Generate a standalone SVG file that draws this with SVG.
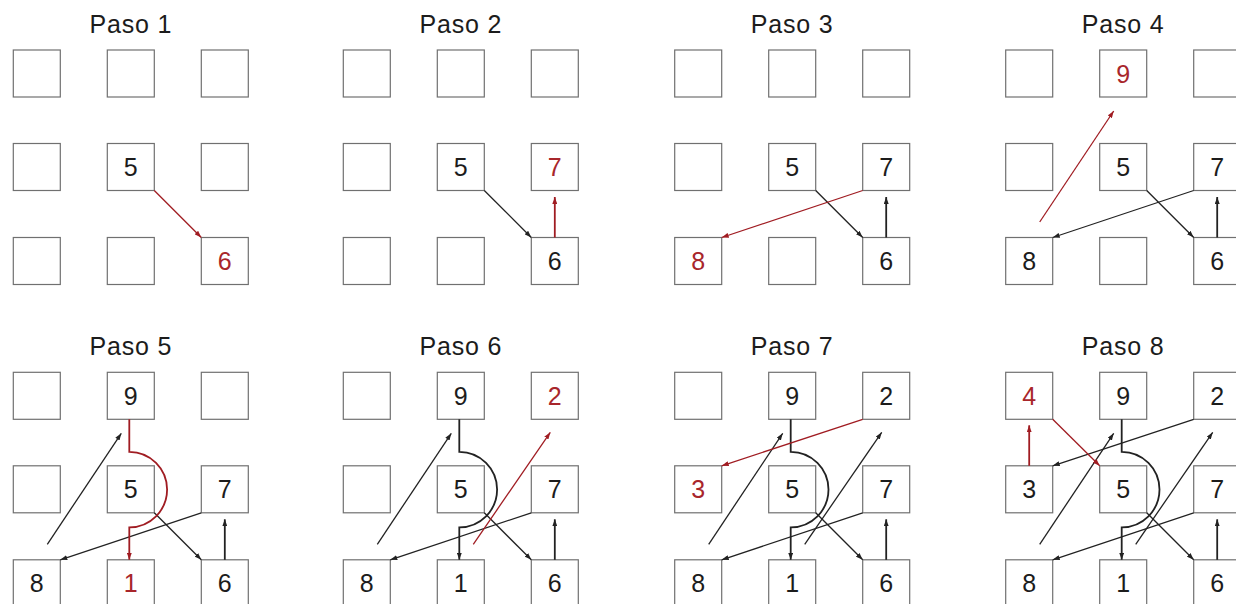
<svg xmlns="http://www.w3.org/2000/svg" width="1236" height="604" viewBox="0 0 1236 604">
<defs>
<marker id="ab" markerUnits="userSpaceOnUse" markerWidth="7" markerHeight="5" viewBox="0 0 7 5" refX="7" refY="2.5" orient="auto"><path d="M0,0 L7,2.5 L0,5 z" fill="#222"/></marker>
<marker id="ar" markerUnits="userSpaceOnUse" markerWidth="7" markerHeight="5" viewBox="0 0 7 5" refX="7" refY="2.5" orient="auto"><path d="M0,0 L7,2.5 L0,5 z" fill="#a01c22"/></marker>
<style>
.bx{fill:#fff;stroke:#707070;stroke-width:1.2}
.t{font-family:"Liberation Sans",Arial,sans-serif;font-size:25px;fill:#1c1c1c;text-anchor:middle;letter-spacing:0.8px}
.d{font-family:"Liberation Sans",Arial,sans-serif;font-size:25px;fill:#1c1c1c;text-anchor:middle}
.dr{fill:#a8262b}
.k{fill:none;stroke:#222;stroke-width:1.3;marker-end:url(#ab)}
.kv{fill:none;stroke:#222;stroke-width:1.8;marker-end:url(#ab)}
.r{fill:none;stroke:#a01c22;stroke-width:1.3;marker-end:url(#ar)}
.rv{fill:none;stroke:#a01c22;stroke-width:1.8;marker-end:url(#ar)}
</style>
</defs>
<rect width="1236" height="604" fill="#fff"/>

<!-- Paso 1 -->
<g id="paso1" transform="translate(13.3,50)">
<text class="t" x="117.5" y="-17">Paso 1</text>
<g id="p1-a1"><rect class="bx" x="0" y="0" width="47" height="47"/></g>
<g id="p1-a2"><rect class="bx" x="94" y="0" width="47" height="47"/></g>
<g id="p1-a3"><rect class="bx" x="188" y="0" width="47" height="47"/></g>
<g id="p1-b1"><rect class="bx" x="0" y="93.5" width="47" height="47"/></g>
<g id="p1-b2"><rect class="bx" x="94" y="93.5" width="47" height="47"/><text class="d" x="117.5" y="126">5</text></g>
<g id="p1-b3"><rect class="bx" x="188" y="93.5" width="47" height="47"/></g>
<g id="p1-c1"><rect class="bx" x="0" y="187.5" width="47" height="47"/></g>
<g id="p1-c2"><rect class="bx" x="94" y="187.5" width="47" height="47"/></g>
<g id="p1-c3"><rect class="bx" x="188" y="187.5" width="47" height="47"/><text class="d dr" x="211.5" y="220">6</text></g>
<g id="p1-connectors">
<path class="r" d="M141,140.5 L188,187.5"/>
</g>
</g>

<!-- Paso 2 -->
<g id="paso2" transform="translate(343.3,50)">
<text class="t" x="117.5" y="-17">Paso 2</text>
<g id="p2-a1"><rect class="bx" x="0" y="0" width="47" height="47"/></g>
<g id="p2-a2"><rect class="bx" x="94" y="0" width="47" height="47"/></g>
<g id="p2-a3"><rect class="bx" x="188" y="0" width="47" height="47"/></g>
<g id="p2-b1"><rect class="bx" x="0" y="93.5" width="47" height="47"/></g>
<g id="p2-b2"><rect class="bx" x="94" y="93.5" width="47" height="47"/><text class="d" x="117.5" y="126">5</text></g>
<g id="p2-b3"><rect class="bx" x="188" y="93.5" width="47" height="47"/><text class="d dr" x="211.5" y="126">7</text></g>
<g id="p2-c1"><rect class="bx" x="0" y="187.5" width="47" height="47"/></g>
<g id="p2-c2"><rect class="bx" x="94" y="187.5" width="47" height="47"/></g>
<g id="p2-c3"><rect class="bx" x="188" y="187.5" width="47" height="47"/><text class="d" x="211.5" y="220">6</text></g>
<g id="p2-connectors">
<path class="k" d="M141,140.5 L188,187.5"/>
<path class="rv" d="M211.5,187.5 L211.5,147"/>
</g>
</g>

<!-- Paso 3 -->
<g id="paso3" transform="translate(674.7,50)">
<text class="t" x="117.5" y="-17">Paso 3</text>
<g id="p3-a1"><rect class="bx" x="0" y="0" width="47" height="47"/></g>
<g id="p3-a2"><rect class="bx" x="94" y="0" width="47" height="47"/></g>
<g id="p3-a3"><rect class="bx" x="188" y="0" width="47" height="47"/></g>
<g id="p3-b1"><rect class="bx" x="0" y="93.5" width="47" height="47"/></g>
<g id="p3-b2"><rect class="bx" x="94" y="93.5" width="47" height="47"/><text class="d" x="117.5" y="126">5</text></g>
<g id="p3-b3"><rect class="bx" x="188" y="93.5" width="47" height="47"/><text class="d" x="211.5" y="126">7</text></g>
<g id="p3-c1"><rect class="bx" x="0" y="187.5" width="47" height="47"/><text class="d dr" x="23.5" y="220">8</text></g>
<g id="p3-c2"><rect class="bx" x="94" y="187.5" width="47" height="47"/></g>
<g id="p3-c3"><rect class="bx" x="188" y="187.5" width="47" height="47"/><text class="d" x="211.5" y="220">6</text></g>
<g id="p3-connectors">
<path class="k" d="M141,140.5 L188,187.5"/>
<path class="kv" d="M211.5,187.5 L211.5,147"/>
<path class="r" d="M188,140.5 L47,187.5"/>
</g>
</g>

<!-- Paso 4 -->
<g id="paso4" transform="translate(1005.7,50)">
<text class="t" x="117.5" y="-17">Paso 4</text>
<g id="p4-a1"><rect class="bx" x="0" y="0" width="47" height="47"/></g>
<g id="p4-a2"><rect class="bx" x="94" y="0" width="47" height="47"/><text class="d dr" x="117.5" y="32.5">9</text></g>
<g id="p4-a3"><rect class="bx" x="188" y="0" width="47" height="47"/></g>
<g id="p4-b1"><rect class="bx" x="0" y="93.5" width="47" height="47"/></g>
<g id="p4-b2"><rect class="bx" x="94" y="93.5" width="47" height="47"/><text class="d" x="117.5" y="126">5</text></g>
<g id="p4-b3"><rect class="bx" x="188" y="93.5" width="47" height="47"/><text class="d" x="211.5" y="126">7</text></g>
<g id="p4-c1"><rect class="bx" x="0" y="187.5" width="47" height="47"/><text class="d" x="23.5" y="220">8</text></g>
<g id="p4-c2"><rect class="bx" x="94" y="187.5" width="47" height="47"/></g>
<g id="p4-c3"><rect class="bx" x="188" y="187.5" width="47" height="47"/><text class="d" x="211.5" y="220">6</text></g>
<g id="p4-connectors">
<path class="k" d="M141,140.5 L188,187.5"/>
<path class="kv" d="M211.5,187.5 L211.5,147"/>
<path class="k" d="M188,140.5 L47,187.5"/>
<path class="r" d="M34,172 L108,61"/>
</g>
</g>

<!-- Paso 5 -->
<g id="paso5" transform="translate(13.3,372.3)">
<text class="t" x="117.5" y="-17">Paso 5</text>
<g id="p5-a1"><rect class="bx" x="0" y="0" width="47" height="47"/></g>
<g id="p5-a2"><rect class="bx" x="94" y="0" width="47" height="47"/><text class="d" x="117.5" y="32.5">9</text></g>
<g id="p5-a3"><rect class="bx" x="188" y="0" width="47" height="47"/></g>
<g id="p5-b1"><rect class="bx" x="0" y="93.5" width="47" height="47"/></g>
<g id="p5-b2"><rect class="bx" x="94" y="93.5" width="47" height="47"/><text class="d" x="117.5" y="126">5</text></g>
<g id="p5-b3"><rect class="bx" x="188" y="93.5" width="47" height="47"/><text class="d" x="211.5" y="126">7</text></g>
<g id="p5-c1"><rect class="bx" x="0" y="187.5" width="47" height="47"/><text class="d" x="23.5" y="220">8</text></g>
<g id="p5-c2"><rect class="bx" x="94" y="187.5" width="47" height="47"/><text class="d dr" x="117.5" y="220">1</text></g>
<g id="p5-c3"><rect class="bx" x="188" y="187.5" width="47" height="47"/><text class="d" x="211.5" y="220">6</text></g>
<g id="p5-connectors">
<path class="k" d="M141,140.5 L188,187.5"/>
<path class="kv" d="M211.5,187.5 L211.5,147"/>
<path class="k" d="M188,140.5 L47,187.5"/>
<path class="k" d="M34,172 L108,61"/>
<path class="rv" d="M116,47 V79.5 A37.8,37.8 0 0 1 116,155.1 V187.5"/>
</g>
</g>

<!-- Paso 6 -->
<g id="paso6" transform="translate(343.3,372.3)">
<text class="t" x="117.5" y="-17">Paso 6</text>
<g id="p6-a1"><rect class="bx" x="0" y="0" width="47" height="47"/></g>
<g id="p6-a2"><rect class="bx" x="94" y="0" width="47" height="47"/><text class="d" x="117.5" y="32.5">9</text></g>
<g id="p6-a3"><rect class="bx" x="188" y="0" width="47" height="47"/><text class="d dr" x="211.5" y="32.5">2</text></g>
<g id="p6-b1"><rect class="bx" x="0" y="93.5" width="47" height="47"/></g>
<g id="p6-b2"><rect class="bx" x="94" y="93.5" width="47" height="47"/><text class="d" x="117.5" y="126">5</text></g>
<g id="p6-b3"><rect class="bx" x="188" y="93.5" width="47" height="47"/><text class="d" x="211.5" y="126">7</text></g>
<g id="p6-c1"><rect class="bx" x="0" y="187.5" width="47" height="47"/><text class="d" x="23.5" y="220">8</text></g>
<g id="p6-c2"><rect class="bx" x="94" y="187.5" width="47" height="47"/><text class="d" x="117.5" y="220">1</text></g>
<g id="p6-c3"><rect class="bx" x="188" y="187.5" width="47" height="47"/><text class="d" x="211.5" y="220">6</text></g>
<g id="p6-connectors">
<path class="k" d="M141,140.5 L188,187.5"/>
<path class="kv" d="M211.5,187.5 L211.5,147"/>
<path class="k" d="M188,140.5 L47,187.5"/>
<path class="k" d="M34,172 L108,61"/>
<path class="kv" d="M116,47 V79.5 A37.8,37.8 0 0 1 116,155.1 V187.5"/>
<path class="r" d="M130,172 L207,60"/>
</g>
</g>

<!-- Paso 7 -->
<g id="paso7" transform="translate(674.7,372.3)">
<text class="t" x="117.5" y="-17">Paso 7</text>
<g id="p7-a1"><rect class="bx" x="0" y="0" width="47" height="47"/></g>
<g id="p7-a2"><rect class="bx" x="94" y="0" width="47" height="47"/><text class="d" x="117.5" y="32.5">9</text></g>
<g id="p7-a3"><rect class="bx" x="188" y="0" width="47" height="47"/><text class="d" x="211.5" y="32.5">2</text></g>
<g id="p7-b1"><rect class="bx" x="0" y="93.5" width="47" height="47"/><text class="d dr" x="23.5" y="126">3</text></g>
<g id="p7-b2"><rect class="bx" x="94" y="93.5" width="47" height="47"/><text class="d" x="117.5" y="126">5</text></g>
<g id="p7-b3"><rect class="bx" x="188" y="93.5" width="47" height="47"/><text class="d" x="211.5" y="126">7</text></g>
<g id="p7-c1"><rect class="bx" x="0" y="187.5" width="47" height="47"/><text class="d" x="23.5" y="220">8</text></g>
<g id="p7-c2"><rect class="bx" x="94" y="187.5" width="47" height="47"/><text class="d" x="117.5" y="220">1</text></g>
<g id="p7-c3"><rect class="bx" x="188" y="187.5" width="47" height="47"/><text class="d" x="211.5" y="220">6</text></g>
<g id="p7-connectors">
<path class="k" d="M141,140.5 L188,187.5"/>
<path class="kv" d="M211.5,187.5 L211.5,147"/>
<path class="k" d="M188,140.5 L47,187.5"/>
<path class="k" d="M34,172 L108,61"/>
<path class="kv" d="M116,47 V79.5 A37.8,37.8 0 0 1 116,155.1 V187.5"/>
<path class="k" d="M130,172 L207,60"/>
<path class="r" d="M188,47 L47,93.5"/>
</g>
</g>

<!-- Paso 8 -->
<g id="paso8" transform="translate(1005.7,372.3)">
<text class="t" x="117.5" y="-17">Paso 8</text>
<g id="p8-a1"><rect class="bx" x="0" y="0" width="47" height="47"/><text class="d dr" x="23.5" y="32.5">4</text></g>
<g id="p8-a2"><rect class="bx" x="94" y="0" width="47" height="47"/><text class="d" x="117.5" y="32.5">9</text></g>
<g id="p8-a3"><rect class="bx" x="188" y="0" width="47" height="47"/><text class="d" x="211.5" y="32.5">2</text></g>
<g id="p8-b1"><rect class="bx" x="0" y="93.5" width="47" height="47"/><text class="d" x="23.5" y="126">3</text></g>
<g id="p8-b2"><rect class="bx" x="94" y="93.5" width="47" height="47"/><text class="d" x="117.5" y="126">5</text></g>
<g id="p8-b3"><rect class="bx" x="188" y="93.5" width="47" height="47"/><text class="d" x="211.5" y="126">7</text></g>
<g id="p8-c1"><rect class="bx" x="0" y="187.5" width="47" height="47"/><text class="d" x="23.5" y="220">8</text></g>
<g id="p8-c2"><rect class="bx" x="94" y="187.5" width="47" height="47"/><text class="d" x="117.5" y="220">1</text></g>
<g id="p8-c3"><rect class="bx" x="188" y="187.5" width="47" height="47"/><text class="d" x="211.5" y="220">6</text></g>
<g id="p8-connectors">
<path class="k" d="M141,140.5 L188,187.5"/>
<path class="kv" d="M211.5,187.5 L211.5,147"/>
<path class="k" d="M188,140.5 L47,187.5"/>
<path class="k" d="M34,172 L108,61"/>
<path class="kv" d="M116,47 V79.5 A37.8,37.8 0 0 1 116,155.1 V187.5"/>
<path class="k" d="M130,172 L207,60"/>
<path class="k" d="M188,47 L47,93.5"/>
<path class="rv" d="M23.5,93.5 L23.5,53"/>
<path class="r" d="M47,47 L94,93.5"/>
</g>
</g>
</svg>
